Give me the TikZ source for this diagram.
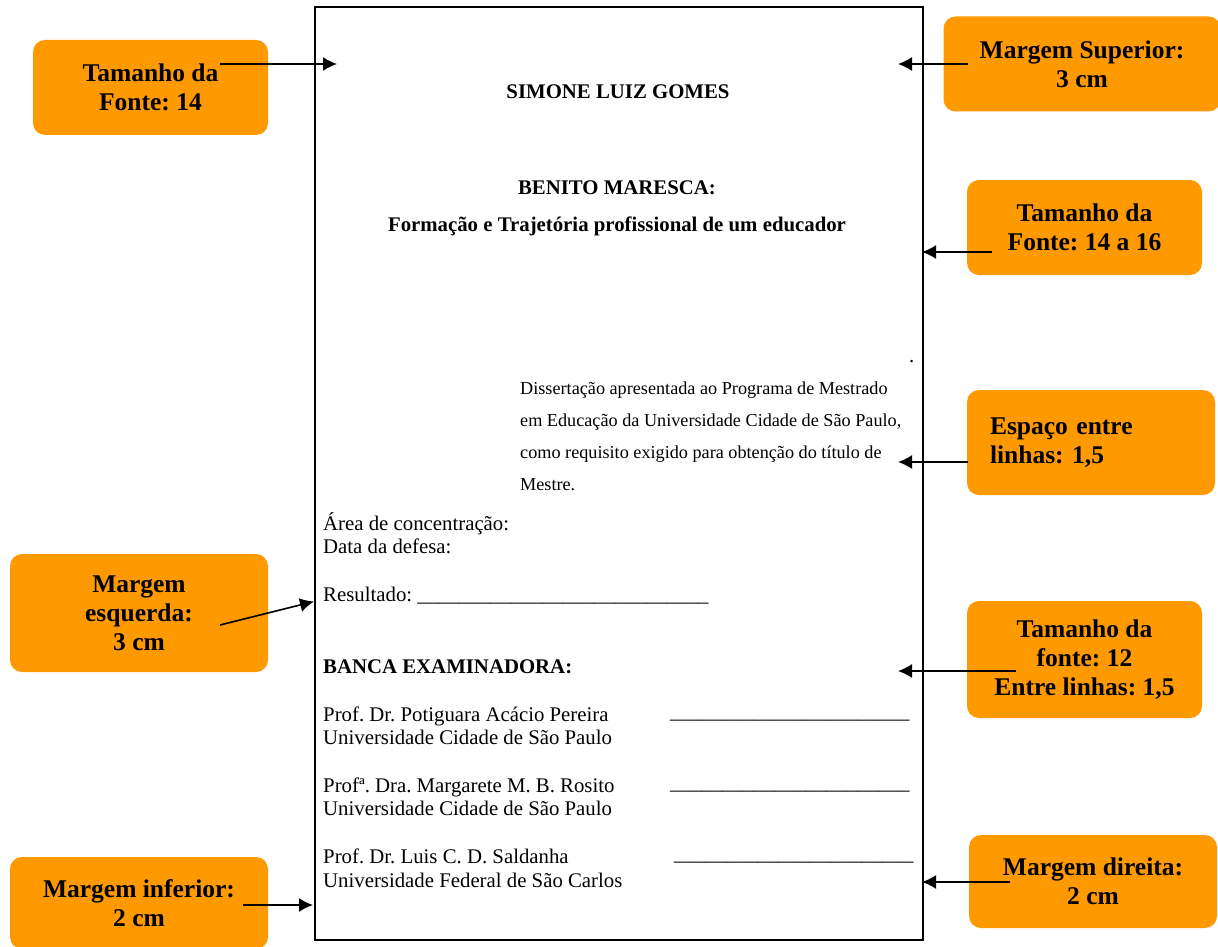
\documentclass[tikz,border=0pt]{standalone}
\usepackage{fontspec}
\setmainfont{Liberation Serif}
\usetikzlibrary{arrows.meta}
\definecolor{laranja}{RGB}{255,153,0}
\frenchspacing
\begin{document}
\begin{tikzpicture}[x=1pt,y=-1pt,
  caixa/.style={fill=laranja, rounded corners=12pt, align=center, inner sep=0pt,
    font=\fontsize{25.5}{29}\selectfont\bfseries},
  texto/.style={anchor=base west, inner sep=0pt, font=\fontsize{20.8}{24}\selectfont},
  titulo/.style={anchor=base, inner sep=0pt, font=\fontsize{20.8}{24}\selectfont\bfseries},
  resumo/.style={anchor=base west, inner sep=0pt, font=\fontsize{18.2}{24}\selectfont},
  seta/.style={line width=1.6pt, -{Latex[length=14pt,width=14pt]}}]
\useasboundingbox (0,0) rectangle (1218,947);
% folha
\draw[line width=2.2pt] (315,7) rectangle (923,940);
\node[titulo] (autor) at (618,99) {SIMONE LUIZ GOMES};
\node[titulo] (tema) at (617,194) {BENITO MARESCA:};
\node[titulo] (subtema) at (617,231) {Formação e Trajetória profissional de um educador};
\node[texto] (ponto) at (909,362) {.};
\node[resumo] (r1) at (520,394) {Dissertação apresentada ao Programa de Mestrado};
\node[resumo] (r2) at (520,426) {em Educação da Universidade Cidade de São Paulo,};
\node[resumo] (r3) at (520,458) {como requisito exigido para obtenção do título de};
\node[resumo] (r4) at (520,490) {Mestre.};
\node[texto] (area) at (323,530) {Área de concentração:};
\node[texto] (data) at (323,553) {Data da defesa:};
\node[texto] (resultado) at (323,601) {Resultado: \_\_\_\_\_\_\_\_\_\_\_\_\_\_\_\_\_\_\_\_\_\_\_\_\_\_\_\_};
\node[texto, font=\fontsize{20.8}{24}\selectfont\bfseries] (banca) at (323,673) {BANCA EXAMINADORA:};
\node[texto] (prof1) at (323,721) {Prof. Dr. Potiguara Acácio Pereira};
\node[texto] (inst1) at (323,744) {Universidade Cidade de São Paulo};
\node[texto] (prof2) at (323,792) {Profª. Dra. Margarete M. B. Rosito};
\node[texto] (inst2) at (323,815) {Universidade Cidade de São Paulo};
\node[texto] (prof3) at (323,863) {Prof. Dr. Luis C. D. Saldanha};
\node[texto] (inst3) at (323,887) {Universidade Federal de São Carlos};
\node[texto] (ass1) at (670,718) {\_\_\_\_\_\_\_\_\_\_\_\_\_\_\_\_\_\_\_\_\_\_\_};
\node[texto] (ass2) at (670,789) {\_\_\_\_\_\_\_\_\_\_\_\_\_\_\_\_\_\_\_\_\_\_\_};
\node[texto] (ass3) at (674,860) {\_\_\_\_\_\_\_\_\_\_\_\_\_\_\_\_\_\_\_\_\_\_\_};
% caixas
\node[caixa, minimum width=235pt, minimum height=95pt] (fonte14) at (150.5,87.5) {Tamanho da\\Fonte: 14};
\node[caixa, minimum width=277pt, minimum height=95pt] (superior) at (1082,64) {Margem Superior:\\3 cm};
\node[caixa, minimum width=235pt, minimum height=95pt] (fonte16) at (1084.5,227.5) {Tamanho da\\Fonte: 14 a 16};
\node[caixa, align=left, text width=202pt, inner xsep=23pt, minimum height=105pt] (espaco) at (1091,442.5) {Espaço entre\\linhas: 1,5};
\node[caixa, minimum width=258pt, minimum height=118pt] (esquerda) at (139,613) {Margem\\esquerda:\\3 cm};
\node[caixa, minimum width=235pt, minimum height=117pt] (fonte12) at (1084.5,659.5) {Tamanho da\\fonte: 12\\Entre linhas: 1,5};
\node[caixa, minimum width=258pt, minimum height=92pt] (inferior) at (139,903) {Margem inferior:\\2 cm};
\node[caixa, minimum width=248pt, minimum height=93pt] (direita) at (1093,881.5) {Margem direita:\\2 cm};
% setas
\coordinate (s1) at (220,64);    \coordinate (p1) at (337,64);
\coordinate (s2) at (968,64);    \coordinate (p2) at (898,64);
\coordinate (s3) at (992,252);   \coordinate (p3) at (922,252);
\coordinate (s4) at (968,462);   \coordinate (p4) at (898,462);
\coordinate (s5) at (220,625);   \coordinate (p5) at (314,601.5);
\coordinate (s6) at (1016,671);  \coordinate (p6) at (898,671);
\coordinate (s7) at (243,905);   \coordinate (p7) at (313,905);
\coordinate (s8) at (1010,882);  \coordinate (p8) at (922,882);
\draw[seta] (s1) -- (p1);
\draw[seta] (s2) -- (p2);
\draw[seta] (s3) -- (p3);
\draw[seta] (s4) -- (p4);
\draw[seta] (s5) -- (p5);
\draw[seta] (s6) -- (p6);
\draw[seta] (s7) -- (p7);
\draw[seta] (s8) -- (p8);
\end{tikzpicture}
\end{document}
